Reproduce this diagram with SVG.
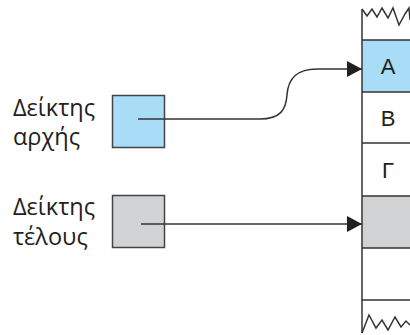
<svg xmlns="http://www.w3.org/2000/svg" width="410" height="335" viewBox="0 0 410 335">
<defs>
<style>
.lbl{font-family:"Open Sans","Liberation Sans",Arial,sans-serif;font-size:23.5px;fill:#231f20}
.cell{font-family:"Liberation Sans",Arial,sans-serif;font-size:22px;fill:#231f20;text-anchor:middle}
.ln{stroke:#333;stroke-width:1.5;fill:none}
.box{stroke:#444;stroke-width:1.5}
</style>
<marker id="ah" markerWidth="16" markerHeight="16" viewBox="0 0 16 16" refX="15" refY="8" orient="auto" markerUnits="userSpaceOnUse">
<path d="M0,0 L15,8 L0,16 Z" fill="#231f20"/>
</marker>
</defs>
<rect width="410" height="335" fill="#fff"/>
<g id="memory">
<rect x="362" y="40" width="50" height="52" fill="#a8dcf7"/>
<rect x="362" y="196" width="50" height="52" fill="#d1d2d4"/>
<path class="ln" d="M362,9 V333"/>
<path class="ln" d="M362,40 H410 M362,92 H410 M362,143 H410 M362,196 H410 M362,248 H410 M362,300 H410"/>
<path class="ln" stroke-width="1.3" d="M362,9 L367,16 L372,9 L377,17 L382,8 L388,18 L393,8 L399,25 L405,14 L409,8 L410,20"/>
<path class="ln" stroke-width="1.3" d="M362,333 L369,315 L376,328 L382,320 L388,330 L395,317 L401,327 L406,321 L410,325"/>
<text class="cell" x="388" y="74">A</text>
<text class="cell" x="388" y="126">B</text>
<text class="cell" x="388" y="178">Γ</text>
</g>
<g id="start-pointer">
<text class="lbl" x="13" y="116">Δείκτης</text>
<text class="lbl" x="13" y="145">αρχής</text>
<rect class="box" x="112.5" y="95.5" width="52" height="52" fill="#a8dcf7"/>
</g>
<g id="end-pointer">
<text class="lbl" x="13" y="215">Δείκτης</text>
<text class="lbl" x="13" y="245">τέλους</text>
<rect class="box" x="112.5" y="195.5" width="52" height="52" fill="#d1d2d4"/>
</g>
<g id="connectors">
<path class="ln" marker-end="url(#ah)" d="M138,119 H260 C280,119 286,110 287,95 C288,80 295,69 317,69 H362"/>
<path class="ln" marker-end="url(#ah)" d="M141,224 H362"/>
</g>
</svg>
